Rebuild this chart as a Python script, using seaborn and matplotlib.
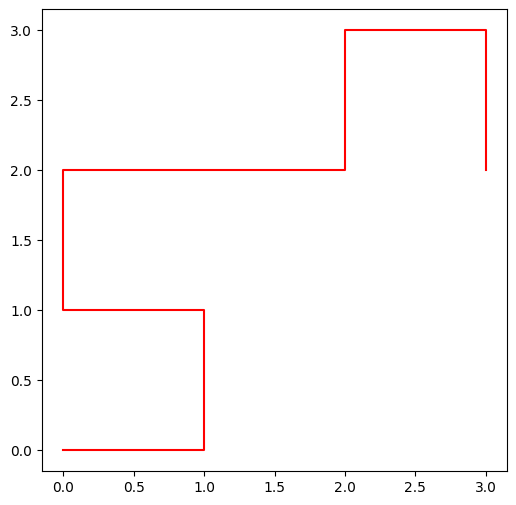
import matplotlib
matplotlib.use("Agg")
import matplotlib.pyplot as plt
import seaborn as sns
import pandas as pd

x_vals = [0, 1, 1, 0, 0, 2, 2, 3, 3]
y_vals = [0, 0, 1, 1, 2, 2, 3, 3, 2]

df = pd.DataFrame({"x": x_vals, "y": y_vals, "order": range(len(x_vals))})

fig = plt.figure(figsize=(5.16, 5.05), dpi=100)
ax = fig.add_axes([42/516, 1-471/505, (507-42)/516, (471-9)/505])
sns.lineplot(data=df, x="x", y="y", sort=False, estimator=None, color="red", ax=ax, linewidth=1.5)
ax.set_xlabel("")
ax.set_ylabel("")
ax.set_xticks([0, 0.5, 1, 1.5, 2, 2.5, 3])
ax.set_yticks([0, 0.5, 1, 1.5, 2, 2.5, 3])
fig.savefig("out.png", dpi=100)
